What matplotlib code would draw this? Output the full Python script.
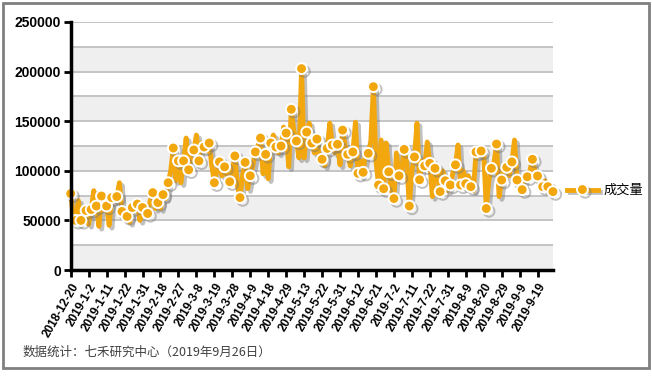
import matplotlib

matplotlib.use("Agg")

import matplotlib.pyplot as plt
import matplotlib.patheffects as pe
from matplotlib.patches import Rectangle

plt.rcParams["font.family"] = ["Liberation Sans", "Noto Sans CJK SC", "DejaVu Sans"]

# 成交量 (daily), 2018-12-20 ... 2019-9-27
volume = [
    77000, 55000, 50000, 70000, 50000, 52000, 60000, 46000, 61000, 80000,
    64500, 44000, 74600, 60000, 64500, 45000, 73000, 70000, 74000, 88000,
    59000, 56000, 54000, 48000, 63000, 67000, 66500, 50000, 63000, 56000,
    57000, 70000, 78000, 62000, 68000, 62000, 76000, 72000, 88000, 100000,
    123000, 90000, 110000, 88000, 110000, 133000, 101000, 115000, 121000, 136000,
    110000, 128000, 124000, 120000, 128000, 105000, 88000, 100000, 109000, 95000,
    104000, 96000, 89000, 100000, 115000, 85000, 73000, 95000, 108500, 82000,
    95000, 105000, 119000, 125000, 133000, 97000, 116600, 92000, 128000, 136000,
    124000, 118000, 125000, 144000, 138000, 104000, 162000, 140000, 130000, 113000,
    203000, 113000, 139000, 148000, 128000, 118000, 132000, 112000, 111600, 105000,
    122600, 148000, 126000, 118000, 126700, 106000, 141000, 125000, 116600, 105000,
    119000, 149000, 97500, 110000, 98500, 120000, 117600, 130000, 184800, 110000,
    85700, 131000, 82000, 128000, 99000, 80000, 72000, 118000, 95000, 100000,
    121600, 108000, 64500, 100000, 114000, 148000, 91000, 110000, 105000, 129000,
    107600, 74000, 102500, 95000, 79000, 100000, 90000, 80000, 85700, 98000,
    106000, 126000, 85700, 100000, 87000, 95000, 84000, 80000, 119000, 115000,
    120000, 118000, 62000, 90000, 102500, 108000, 127000, 74000, 90700, 106000,
    103500, 95000, 109000, 131000, 90700, 85000, 81000, 92000, 94000, 100000,
    111600, 100000, 94800, 88000, 84000, 90000, 84000, 82000, 79000,
]

tick_labels = [
    "2018-12-20", "2019-1-2", "2019-1-11", "2019-1-22", "2019-1-31", "2019-2-18",
    "2019-2-27", "2019-3-8", "2019-3-19", "2019-3-28", "2019-4-9", "2019-4-18",
    "2019-4-29", "2019-5-13", "2019-5-22", "2019-5-31", "2019-6-12", "2019-6-21",
    "2019-7-2", "2019-7-11", "2019-7-22", "2019-7-31", "2019-8-9", "2019-8-20",
    "2019-8-29", "2019-9-9", "2019-9-19",
]

series_name = "成交量"
footer = "数据统计：七禾研究中心（2019年9月26日）"

orange = "#F2A70F"

fig = plt.figure(figsize=(6.52, 3.76), dpi=100)
ax = fig.add_axes([0.1084, 0.2819, 0.7397, 0.6596])

x = list(range(len(volume)))

# alternating bands
for lo in range(0, 250000, 50000):
    ax.axhspan(lo, lo + 25000, color="#efefef", zorder=0, lw=0)

ax.plot(
    x,
    volume,
    color=orange,
    lw=3.5,
    marker="o",
    markevery=2,
    markersize=7.8,
    markerfacecolor=orange,
    markeredgecolor="white",
    markeredgewidth=1.4,
    label=series_name,
    zorder=3,
    clip_on=False,
    path_effects=[pe.SimpleLineShadow(offset=(2, -2), shadow_color="#777777", alpha=0.45), pe.Normal()],
)

ax.set_xlim(0, len(volume) - 1)
ax.set_ylim(0, 250000)
ax.set_yticks(range(0, 250001, 50000))
ax.set_yticks(range(25000, 250000, 50000), minor=True)
ax.yaxis.grid(True, which="both", color="#c4c4c4", lw=1.4, zorder=1)
ax.tick_params(axis="y", which="minor", length=0)
ax.tick_params(axis="y", which="major", length=5, width=2, pad=2, labelsize=10)
for t in ax.get_yticklabels():
    t.set_fontweight("bold")

ax.set_xticks(range(0, 7 * len(tick_labels), 7))
ax.set_xticklabels(tick_labels, rotation=60, ha="right", rotation_mode="anchor",
                   fontsize=8.5, fontweight="bold")
ax.tick_params(axis="x", length=5, width=2, pad=3)

for side in ("top", "right"):
    ax.spines[side].set_visible(False)
for side in ("left", "bottom"):
    ax.spines[side].set_linewidth(2.5)
    ax.spines[side].set_zorder(5)
ax.set_axisbelow(True)

ax.legend(loc="center left", bbox_to_anchor=(1.005, 0.32), frameon=False,
          handlelength=2.3, handletextpad=0.45,
          prop={"family": ["Noto Sans CJK SC"], "size": 9.5})

fig.text(0.034, 0.064, footer, fontsize=9, color="#404040",
         family=["Noto Sans CJK SC", "DejaVu Sans"], va="center")

fig.patches.append(Rectangle((3 / 652, 8 / 376), 646 / 652, 365 / 376, transform=fig.transFigure,
                             fill=False, edgecolor="#808080", lw=2))

fig.savefig("out.png", dpi=100)
plt.close(fig)
